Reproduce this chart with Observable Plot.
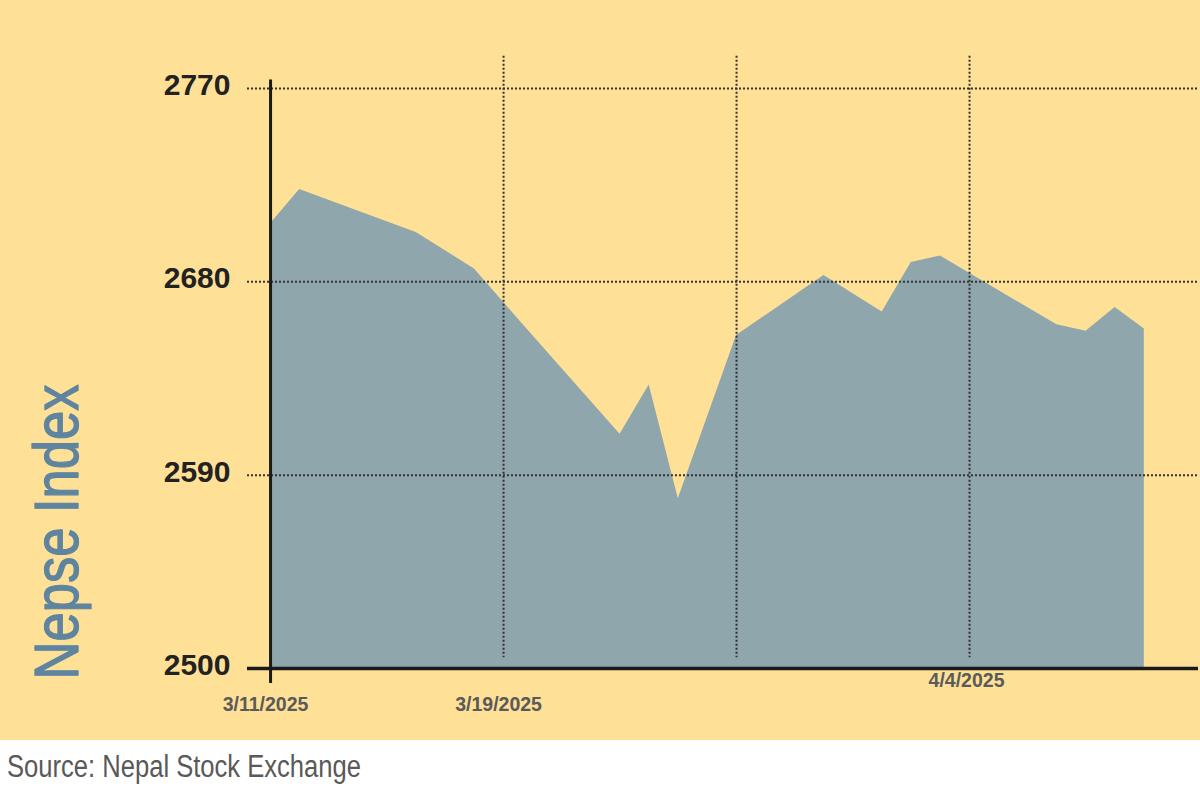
<!DOCTYPE html>
<html>
<head>
<meta charset="utf-8">
<script src="https://cdn.jsdelivr.net/npm/d3@7"></script>
<script src="https://cdn.jsdelivr.net/npm/@observablehq/plot@0.6"></script>
<style>
  html, body { margin: 0; padding: 0; background: #ffffff; }
  #chart { width: 1200px; height: 740px; }
  #caption { font-family: "Liberation Sans", sans-serif; font-size: 31px; color: #595959; padding: 9px 0 0 7px; height: 51px; line-height: 36px; white-space: nowrap; }
  #caption span { display: inline-block; transform: scaleX(0.825); transform-origin: left center; }
</style>
</head>
<body>
<div id="chart"></div>
<div id="caption"><span>Source: Nepal Stock Exchange</span></div>
<script>
// ---- data ----
const dates = ["2025-03-11","2025-03-12","2025-03-16","2025-03-18","2025-03-20","2025-03-23","2025-03-24","2025-03-25","2025-03-27","2025-03-30","2025-04-01","2025-04-02","2025-04-03","2025-04-07","2025-04-08","2025-04-09","2025-04-10"];
const values = [2707, 2723, 2703, 2686, 2655, 2609, 2632, 2579, 2655, 2683, 2666, 2689, 2692, 2660, 2657, 2668, 2658];
const yTicks = [2500, 2590, 2680, 2770];
const gridDates = ["2025-03-19","2025-03-27","2025-04-04"];
const xTickDates = ["2025-03-11","2025-03-19","2025-04-04"];
const xTickLabels = ["3/11/2025","3/19/2025","4/4/2025"];
const yLabel = "Nepse Index";

const parse = s => new Date(s + "T00:00:00Z");
const data = dates.map((d, i) => ({date: parse(d), value: values[i]}));
const xTicks = xTickDates.map((d, i) => ({date: parse(d), label: xTickLabels[i], row: i === 2 ? 0 : 1}));
const axisDate = parse(dates[0]);

const xDomain = [new Date(Date.UTC(2025, 2, 10, 5, 0)), new Date(Date.UTC(2025, 3, 11, 20, 40))];

const chart = Plot.plot({
  width: 1200,
  height: 740,
  marginLeft: 247,
  marginRight: 2,
  marginTop: 88,
  marginBottom: 72,
  style: {background: "#FEE096", overflow: "visible", fontFamily: "'Liberation Sans', sans-serif"},
  x: {type: "utc", domain: xDomain, axis: null},
  y: {domain: [2500, 2770], axis: null},
  marks: [
    Plot.areaY(data, {x: "date", y1: () => 2500, y2: "value", fill: "#8FA6AC", curve: "linear"}),
    Plot.ruleY(yTicks.filter(t => t !== 2500), {stroke: "#333", strokeWidth: 2, strokeDasharray: "2,2"}),
    Plot.ruleX(gridDates.map(parse), {y1: 2785, y2: 2505, stroke: "#333", strokeWidth: 2, strokeDasharray: "2,2"}),
    Plot.ruleY([2500], {stroke: "#1a1a1a", strokeWidth: 3.5}),
    Plot.ruleX([axisDate], {y1: 2774, y2: 2493, stroke: "#1a1a1a", strokeWidth: 3}),
    Plot.text(yTicks, {y: d => d, text: d => String(d), frameAnchor: "left", dx: -17, dy: -3, textAnchor: "end", fontSize: 30, fontWeight: "bold", fill: "#222"}),
    Plot.text(xTicks.filter(d => d.row === 1), {x: "date", text: "label", frameAnchor: "bottom", dy: 36, dx: -5, textAnchor: "middle", lineAnchor: "middle", fontSize: 19.5, fontWeight: "bold", fill: "#5a5a5a"}),
    Plot.text(xTicks.filter(d => d.row === 0), {x: "date", text: "label", frameAnchor: "bottom", dy: 12, dx: -3, textAnchor: "middle", lineAnchor: "middle", fontSize: 19.5, fontWeight: "bold", fill: "#5a5a5a"}),
    Plot.text([yLabel], {text: d => d, frameAnchor: "bottom-left", rotate: -90, textAnchor: "start", lineAnchor: "bottom", dx: -170, dy: 11, fontSize: 63, fill: "#5E84A0", stroke: "#5E84A0", strokeWidth: 1.3})
  ]
});
d3.select(chart).selectAll("text")
  .filter(function () { return this.textContent === yLabel; })
  .attr("textLength", 295)
  .attr("lengthAdjust", "spacingAndGlyphs");
document.getElementById("chart").appendChild(chart);
</script>
</body>
</html>
